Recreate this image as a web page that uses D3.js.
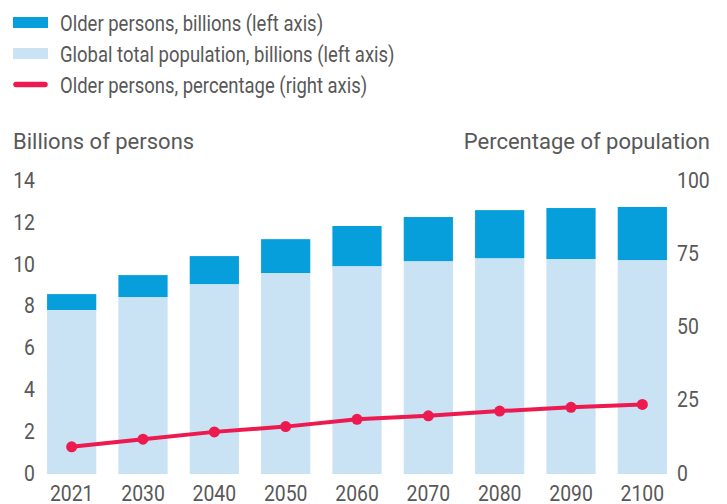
<!DOCTYPE html>
<html>
<head>
<meta charset="utf-8">
<script src="https://cdn.jsdelivr.net/npm/d3@7"></script>
<style>
  body { margin: 0; background: #fff; }
  svg text { font-family: Roboto, "Open Sans", sans-serif; fill: #585858; }
</style>
</head>
<body>
<svg width="727" height="504"></svg>
<script>
var years = ["2021", "2030", "2040", "2050", "2060", "2070", "2080", "2090", "2100"];
var totalPop = [7.85, 8.47, 9.09, 9.62, 9.95, 10.19, 10.33, 10.29, 10.24];
var olderPop = [0.76, 1.05, 1.34, 1.62, 1.92, 2.11, 2.30, 2.44, 2.54];
var olderPct = [9.3, 11.9, 14.4, 16.2, 18.7, 19.9, 21.5, 22.8, 23.8];
var leftTicks = [0, 2, 4, 6, 8, 10, 12, 14];
var rightTicks = [0, 25, 50, 75, 100];

var svg = d3.select("svg"),
    width = +svg.attr("width"),
    height = +svg.attr("height");

var fontSize = 22;

var x = d3.scaleBand()
    .domain(years)
    .range([36, 678])
    .paddingInner(0.31)
    .paddingOuter(0.155);

var y = d3.scaleLinear().domain([0, 14]).range([474, 181.5]);
var yPct = d3.scaleLinear().domain([0, 100]).range([474, 181.5]);

var data = years.map(function(yr, i) {
  return { year: yr, total: totalPop[i], older: olderPop[i], pct: olderPct[i] };
});

// text squeezed horizontally by sx so it looks like the condensed face
function label(g, tx, ty, str, anchor, sx) {
  return g.append("text")
      .attr("transform", "translate(" + tx + "," + ty + ") scale(" + sx + ",1)")
      .attr("text-anchor", anchor || "start")
      .style("font-size", fontSize + "px")
      .text(str);
}

// bars
var bars = svg.append("g").attr("class", "bars");
bars.selectAll("rect.total")
  .data(data)
  .enter().append("rect")
    .attr("class", "total")
    .attr("x", function(d) { return x(d.year); })
    .attr("width", x.bandwidth())
    .attr("y", function(d) { return y(d.total); })
    .attr("height", function(d) { return y(0) - y(d.total); })
    .attr("fill", "#c9e2f4");

bars.selectAll("rect.older")
  .data(data)
  .enter().append("rect")
    .attr("class", "older")
    .attr("x", function(d) { return x(d.year); })
    .attr("width", x.bandwidth())
    .attr("y", function(d) { return y(d.total + d.older); })
    .attr("height", function(d) { return y(d.total) - y(d.total + d.older); })
    .attr("fill", "#079fdb");

// percentage line
var line = d3.line()
    .x(function(d) { return x(d.year) + x.bandwidth() / 2; })
    .y(function(d) { return yPct(d.pct); });

svg.append("path")
    .datum(data)
    .attr("fill", "none")
    .attr("stroke", "#ec1a4e")
    .attr("stroke-width", 4)
    .attr("stroke-linejoin", "round")
    .attr("d", line);

svg.append("g").selectAll("circle")
  .data(data)
  .enter().append("circle")
    .attr("cx", function(d) { return x(d.year) + x.bandwidth() / 2; })
    .attr("cy", function(d) { return yPct(d.pct); })
    .attr("r", 5.5)
    .attr("fill", "#ec1a4e");

// axes (labels only)
var axes = svg.append("g");
leftTicks.forEach(function(t) {
  label(axes, 35, y(t) + 6.5, t, "end", 0.88);
});
rightTicks.forEach(function(t) {
  label(axes, 677, yPct(t) + 6.5, t, "start", 0.88);
});
years.forEach(function(yr) {
  label(axes, x(yr) + x.bandwidth() / 2, 501, yr, "middle", 0.88);
});

label(axes, 13, 149, "Billions of persons", "start", 1);
label(axes, 710, 149, "Percentage of population", "end", 1);

// legend
var legend = svg.append("g");
legend.append("rect").attr("x", 13).attr("y", 17).attr("width", 35).attr("height", 11).attr("fill", "#079fdb");
label(legend, 60, 31, "Older persons, billions (left axis)", "start", 0.84);
legend.append("rect").attr("x", 13).attr("y", 48).attr("width", 35).attr("height", 11).attr("fill", "#c9e2f4");
label(legend, 60, 62, "Global total population, billions (left axis)", "start", 0.84);
legend.append("line")
    .attr("x1", 16).attr("x2", 45).attr("y1", 84.5).attr("y2", 84.5)
    .attr("stroke", "#ec1a4e").attr("stroke-width", 5.5).attr("stroke-linecap", "round");
label(legend, 60, 93, "Older persons, percentage (right axis)", "start", 0.84);
</script>
</body>
</html>
